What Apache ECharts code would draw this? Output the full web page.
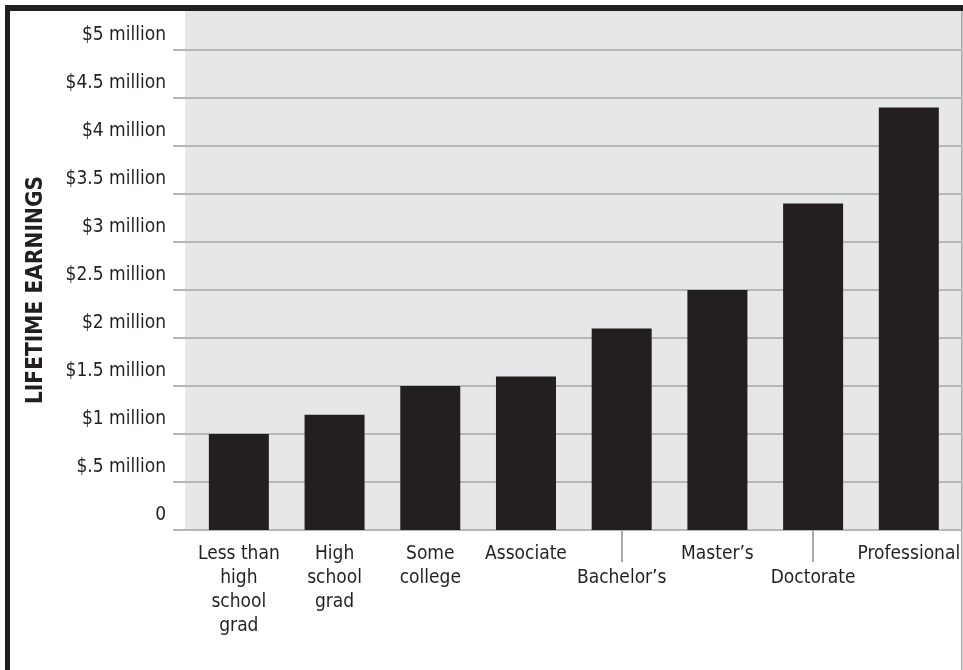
<!DOCTYPE html>
<html>
<head>
<meta charset="utf-8">
<script src="https://cdn.jsdelivr.net/npm/echarts@6/dist/echarts.min.js"></script>
<style>
  html, body { margin: 0; padding: 0; background: #fff; }
  #chart { width: 963px; height: 670px; }
</style>
</head>
<body>
<div id="chart"></div>
<script>
// education levels
var categories = ['Less than\nhigh\nschool\ngrad', 'High\nschool\ngrad', 'Some\ncollege', 'Associate',
  'Bachelor\u2019s', 'Master\u2019s', 'Doctorate', 'Professional'];
// lifetime earnings, millions of dollars
var earnings = [1.0, 1.2, 1.5, 1.6, 2.1, 2.5, 3.4, 4.4];
var yTickLabels = ['0', '$.5 million', '$1 million', '$1.5 million', '$2 million', '$2.5 million',
  '$3 million', '$3.5 million', '$4 million', '$4.5 million', '$5 million'];

var FONT = '"DejaVu Sans Condensed", "DejaVu Sans", sans-serif';
var TXT = '#231f20';
var dropped = [4, 6]; // labels pushed down a line, with a leader tick

var myChart = echarts.init(document.getElementById('chart'));

myChart.setOption({
    animation: false,
    backgroundColor: '#fff',
    graphic: [
        // plot background
        { type: 'rect', z: -10, shape: { x: 185, y: 11, width: 778, height: 519 }, style: { fill: '#e6e7e8' } },
        // frame
        { type: 'rect', shape: { x: 5, y: 5, width: 958, height: 6 }, style: { fill: '#231f20' } },
        { type: 'rect', shape: { x: 5, y: 5, width: 5, height: 665 }, style: { fill: '#231f20' } },
        { type: 'rect', shape: { x: 961, y: 11, width: 1.5, height: 659 }, style: { fill: '#a7a9ac' } }
    ],
    grid: [
        { left: 173, right: 1, top: 50, bottom: 140 },
        { left: 191, right: 4, top: 50, bottom: 140 }
    ],
    xAxis: [
        { type: 'value', gridIndex: 0, show: false, min: 0, max: 1 },
        {
            type: 'category', gridIndex: 1, data: categories,
            axisLine: { show: false },
            axisTick: {
                show: true, alignWithLabel: true, length: 32,
                interval: function (i) { return dropped.indexOf(i) >= 0; },
                lineStyle: { color: '#a7a9ac', width: 2 }
            },
            axisLabel: {
                interval: 0, margin: 12, color: TXT, fontFamily: FONT, fontSize: 19, lineHeight: 24,
                formatter: function (v, i) { return dropped.indexOf(i) >= 0 ? '\n' + v : v; }
            }
        }
    ],
    yAxis: [
        {
            type: 'value', gridIndex: 0, min: 0, max: 5, interval: 0.5,
            name: 'LIFETIME EARNINGS', nameLocation: 'middle', nameRotate: 90, nameGap: 125,
            nameTextStyle: { fontFamily: FONT, fontWeight: 'bold', fontSize: 22.5, color: TXT },
            axisLine: { show: false }, axisTick: { show: false },
            axisLabel: {
                margin: 7, color: TXT, fontFamily: FONT, fontSize: 19,
                verticalAlign: 'bottom', lineHeight: 30,
                formatter: function (v) { return yTickLabels[Math.round(v * 2)]; }
            },
            splitLine: { show: true, lineStyle: { color: '#b5b6b8', width: 2 } }
        },
        { type: 'value', gridIndex: 1, min: 0, max: 5, show: false, splitLine: { show: false } }
    ],
    series: [{
        type: 'bar',
        xAxisIndex: 1,
        yAxisIndex: 1,
        data: earnings,
        barWidth: 60,
        itemStyle: { color: '#231f20' }
    }]
});
</script>
</body>
</html>
